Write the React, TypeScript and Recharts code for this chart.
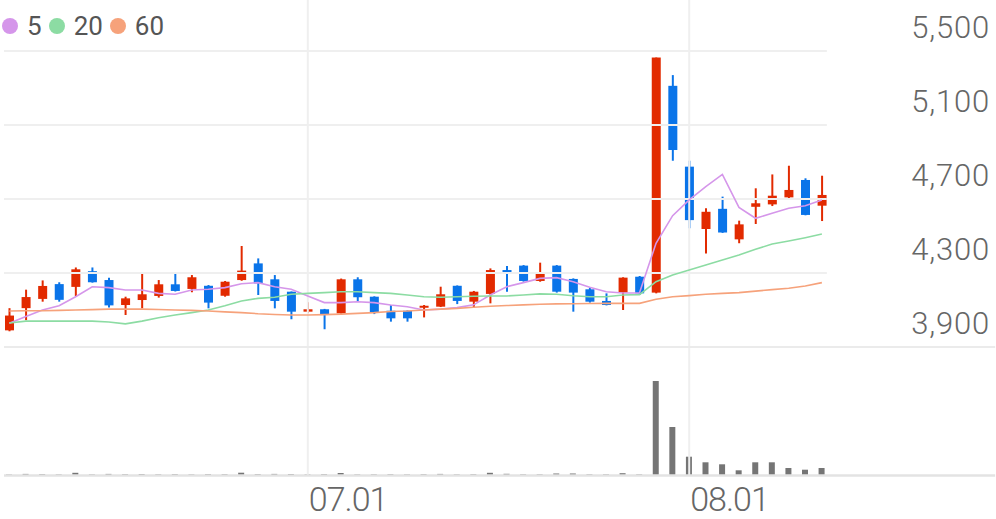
import { ComposedChart, Bar, Line, XAxis, YAxis, ReferenceLine } from "recharts"

// trading days, 06.04 ~ 08.13
const DATES = [
  "06.04", "06.05", "06.07", "06.10", "06.11", "06.12", "06.13", "06.14", "06.17", "06.18",
  "06.19", "06.20", "06.21", "06.24", "06.25", "06.26", "06.27", "06.28", "07.01", "07.02",
  "07.03", "07.04", "07.05", "07.08", "07.09", "07.10", "07.11", "07.12", "07.15", "07.16",
  "07.17", "07.18", "07.19", "07.22", "07.23", "07.24", "07.25", "07.26", "07.29", "07.30",
  "07.31", "08.01", "08.02", "08.05", "08.06", "08.07", "08.08", "08.09", "08.12", "08.13",
]

const OPEN = [
  3990, 4110, 4160, 4240, 4225, 4310, 4262, 4127, 4154, 4176,
  4239, 4214, 4231, 4177, 4262, 4352, 4266, 4199, 4091, 4104,
  4082, 4266, 4172, 4096, 4096, 4114, 4118, 4231, 4145, 4187,
  4316, 4340, 4257, 4340, 4268, 4212, 4149, 4194, 4280, 4194,
  5312, 4875, 4538, 4647, 4482, 4658, 4671, 4709, 4803, 4664,
]
const HIGH = [
  4110, 4210, 4260, 4250, 4330, 4330, 4275, 4172, 4304, 4262,
  4304, 4289, 4235, 4257, 4446, 4379, 4289, 4200, 4142, 4106,
  4270, 4277, 4174, 4127, 4098, 4127, 4226, 4233, 4203, 4325,
  4338, 4343, 4356, 4343, 4271, 4221, 4190, 4277, 4284, 5465,
  5370, 4907, 4650, 4713, 4583, 4758, 4833, 4880, 4812, 4826,
]
const LOW = [
  3985, 4045, 4145, 4145, 4175, 4248, 4113, 4073, 4109, 4167,
  4200, 4196, 4109, 4172, 4258, 4181, 4109, 4050, 4082, 3996,
  4080, 4145, 4078, 4037, 4037, 4060, 4116, 4132, 4113, 4136,
  4199, 4253, 4253, 4194, 4091, 4140, 4125, 4100, 4181, 4190,
  4907, 4542, 4406, 4517, 4461, 4565, 4662, 4698, 4612, 4581,
]
const CLOSE = [
  4070, 4170, 4230, 4155, 4320, 4250, 4125, 4163, 4185, 4239,
  4203, 4277, 4140, 4253, 4313, 4244, 4149, 4091, 4104, 4073,
  4266, 4169, 4088, 4055, 4055, 4123, 4185, 4149, 4199, 4316,
  4295, 4257, 4302, 4199, 4194, 4145, 4127, 4275, 4190, 5465,
  4965, 4586, 4631, 4519, 4563, 4677, 4718, 4749, 4614, 4722,
]
const VOLUME = [
  50, 110, 90, 60, 220, 60, 110, 80, 100, 70,
  90, 60, 90, 80, 230, 90, 110, 100, 60, 90,
  200, 60, 70, 80, 60, 80, 110, 60, 80, 220,
  120, 70, 70, 150, 150, 70, 70, 180, 70, 9400,
  4800, 1830, 1270, 1070, 470, 1270, 1270, 700, 530, 700,
]

const MA5 = [
  4028, 4065, 4100, 4123, 4172, 4226, 4221, 4208, 4208, 4190,
  4185, 4208, 4212, 4221, 4242, 4248, 4226, 4212, 4176, 4140,
  4140, 4145, 4140, 4127, 4118, 4100, 4105, 4113, 4128, 4181,
  4226, 4248, 4271, 4275, 4253, 4223, 4199, 4192, 4192, 4461,
  4610, 4695, 4767, 4833, 4655, 4596, 4623, 4650, 4664, 4695,
]
const MA20 = [
  4030, 4040, 4040, 4040, 4040, 4040, 4035, 4025, 4040, 4058,
  4073, 4086, 4100, 4123, 4149, 4163, 4169, 4185, 4190, 4194,
  4199, 4199, 4194, 4190, 4181, 4172, 4169, 4172, 4174, 4176,
  4176, 4181, 4187, 4185, 4177, 4172, 4172, 4181, 4183, 4253,
  4289, 4316, 4343, 4370, 4397, 4428, 4457, 4473, 4491, 4511,
]
const MA60 = [
  4095, 4096, 4096, 4098, 4100, 4102, 4105, 4105, 4105, 4103,
  4100, 4098, 4095, 4090, 4086, 4080, 4076, 4073, 4073, 4075,
  4078, 4082, 4086, 4092, 4095, 4100, 4105, 4109, 4115, 4120,
  4124, 4128, 4131, 4133, 4134, 4135, 4136, 4136, 4136, 4158,
  4172, 4178, 4185, 4190, 4194, 4202, 4210, 4218, 4230, 4248,
]

const PRICE_TICKS = [3900, 4300, 4700, 5100, 5500]
const DATE_TICKS = ["07.01", "08.01"]

const UP = "#e22a00"
const DOWN = "#0a74e9"
const GRID = "#efefef"
const TEXT = "#666666"

const MA_SERIES = [
  { key: "ma5", label: "5", color: "#d596ea" },
  { key: "ma20", label: "20", color: "#8cdca3" },
  { key: "ma60", label: "60", color: "#f6a27b" },
]

const data = DATES.map((date, i) => ({
  i,
  date,
  open: OPEN[i],
  high: HIGH[i],
  low: LOW[i],
  close: CLOSE[i],
  volume: VOLUME[i],
  ma5: MA5[i],
  ma20: MA20[i],
  ma60: MA60[i],
}))

const Candle = (props: any) => {
  const { x, y, width, height, payload } = props
  if (!payload || payload.high == null) return null
  const top = Math.min(y, y + height)
  const h = Math.abs(height)
  const range = payload.high - payload.low
  const py = (v: number) => (range === 0 ? top : top + ((payload.high - v) / range) * h)
  const color = payload.close >= payload.open ? UP : DOWN
  const bodyTop = py(Math.max(payload.open, payload.close))
  const bodyBottom = py(Math.min(payload.open, payload.close))
  const cx = x + width / 2
  return (
    <g>
      <line x1={cx} x2={cx} y1={top} y2={top + h} stroke={color} strokeWidth={2} />
      <rect x={x} y={bodyTop} width={width} height={Math.max(bodyBottom - bodyTop, 2)} fill={color} />
    </g>
  )
}

const PriceTick = ({ x, y, payload }: any) => (
  <text x={x - 6} y={y - 13} textAnchor="end" fontFamily="Roboto" fontWeight={300} fontSize={31} letterSpacing={0.8} fill={TEXT}>
    {Number(payload.value).toLocaleString("en-US")}
  </text>
)

const DateTick = ({ x, y, payload }: any) => (
  <text x={x + 1} y={y + 36} textAnchor="start" fontFamily="Roboto" fontWeight={300} fontSize={34} letterSpacing={-1} fill={TEXT}>
    {DATES[payload.value]}
  </text>
)

export default function App() {
  const xTicks = DATE_TICKS.map((d) => DATES.indexOf(d))
  const lastX = DATES.length - 1
  return (
    <div style={{ position: "absolute", left: 0, top: 0, width: 996, height: 519, background: "#fff" }}>
      <ComposedChart width={996} height={519} data={data} margin={{ top: 0, right: 0, left: 1, bottom: 0 }}>
        <XAxis
          xAxisId="x"
          dataKey="i"
          type="number"
          domain={[-0.5, 59.5]}
          ticks={xTicks}
          tick={<DateTick />}
          axisLine={false}
          tickLine={false}
          tickSize={0}
          tickMargin={0}
          height={44}
          interval={0}
        />
        <XAxis xAxisId="xv" dataKey="i" type="number" domain={[-0.5, 59.5]} hide />
        <YAxis
          yAxisId="price"
          orientation="right"
          mirror
          width={80}
          domain={[3208, 5776]}
          ticks={PRICE_TICKS}
          tick={<PriceTick />}
          axisLine={false}
          tickLine={false}
          tickSize={0}
          tickMargin={0}
          interval={0}
          allowDataOverflow
        />
        <YAxis yAxisId="vol" domain={[0, 47500]} hide allowDataOverflow />

        {xTicks.map((t) => (
          <ReferenceLine key={t} xAxisId="x" yAxisId="price" x={t} stroke={GRID} strokeWidth={2} />
        ))}
        {PRICE_TICKS.slice(1).map((p) => (
          <ReferenceLine
            key={p}
            xAxisId="x"
            yAxisId="price"
            segment={[{ x: -0.32, y: p }, { x: lastX + 0.3, y: p }]}
            stroke={GRID}
            strokeWidth={2}
          />
        ))}
        <ReferenceLine
          xAxisId="x"
          yAxisId="price"
          segment={[{ x: -0.32, y: PRICE_TICKS[0] }, { x: 59.45, y: PRICE_TICKS[0] }]}
          stroke="#ebebeb"
          strokeWidth={2}
        />
        <ReferenceLine
          xAxisId="xv"
          yAxisId="vol"
          segment={[{ x: -0.32, y: -60 }, { x: 59.45, y: -60 }]}
          stroke="#e3e3e3"
          strokeWidth={2.5}
          ifOverflow="visible"
        />

        <Bar xAxisId="xv" yAxisId="vol" dataKey="volume" barSize={6} fill="#757575" isAnimationActive={false} />

        {MA_SERIES.map((s) => (
          <Line
            key={s.key}
            xAxisId="x"
            yAxisId="price"
            dataKey={s.key}
            stroke={s.color}
            strokeWidth={1.6}
            dot={false}
            activeDot={false}
            isAnimationActive={false}
          />
        ))}
        <Bar
          xAxisId="x"
          yAxisId="price"
          dataKey={(d: any) => [d.low, d.high]}
          barSize={9}
          shape={<Candle />}
          isAnimationActive={false}
        />
      </ComposedChart>

      <div
        style={{
          position: "absolute",
          left: 2,
          top: 10,
          display: "flex",
          alignItems: "center",
          fontFamily: "Roboto",
          fontSize: 26,
          color: "#555",
          lineHeight: "32px",
        }}
      >
        {MA_SERIES.map((s) => (
          <span key={s.key} style={{ display: "flex", alignItems: "center", marginRight: 7 }}>
            <span style={{ width: 16, height: 16, borderRadius: 8, background: s.color, marginRight: 9 }} />
            {s.label}
          </span>
        ))}
      </div>
    </div>
  )
}
